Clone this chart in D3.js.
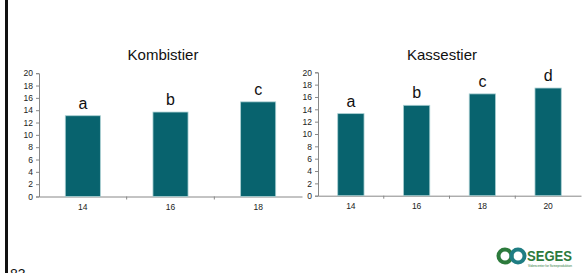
<!DOCTYPE html>
<html><head><meta charset="utf-8">
<script src="https://cdn.jsdelivr.net/npm/d3@7"></script>
<style>body{margin:0;background:#fff}svg{display:block;font-family:"Liberation Sans",Arial,sans-serif}</style>
</head><body><svg id="c" width="583" height="273"></svg>
<script>
const leftTitle = "Kombistier";
const leftCats = ["14","16","18"];
const leftVals = [13.1, 13.7, 15.35];
const leftLetters = ["a","b","c"];
const rightTitle = "Kassestier";
const rightCats = ["14","16","18","20"];
const rightVals = [13.3, 14.65, 16.5, 17.45];
const rightLetters = ["a","b","c","d"];
const yTicks = [0,2,4,6,8,10,12,14,16,18,20];

const svg = d3.select("#c");
const barColor = "#08636e";

function panel(title, cats, vals, letters, x0, x1, y0, y1, barFrac, titleX) {
  const x = d3.scaleBand().domain(cats).range([x0, x1]).paddingInner(0).paddingOuter(0);
  const y = d3.scaleLinear().domain([0, 20]).range([y0, y1]);
  const g = svg.append("g");
  const ya = g.append("g").attr("transform", `translate(${x0},0)`)
    .call(d3.axisLeft(y).tickValues(yTicks).tickSize(3).tickPadding(3).tickFormat(d3.format("d")));
  ya.select(".domain").attr("stroke", "#888");
  ya.selectAll(".tick line").attr("stroke", "#888");
  ya.selectAll("text").attr("font-size", 8.5).attr("fill", "#222").attr("font-family", "Liberation Sans, Arial");
  const xa = g.append("g").attr("transform", `translate(0,${y0})`)
    .call(d3.axisBottom(x).tickSize(0).tickPadding(7));
  xa.select(".domain").attr("stroke", "#888");
  xa.selectAll("text").attr("font-size", 8.5).attr("fill", "#222").attr("font-family", "Liberation Sans, Arial");
  g.selectAll(".bt").data(cats.slice(1)).enter().append("line")
    .attr("x1", d => x(d)).attr("x2", d => x(d))
    .attr("y1", y0).attr("y2", y0 + 3).attr("stroke", "#888");
  const bw = x.bandwidth() * barFrac;
  g.selectAll(".bar").data(vals).enter().append("rect")
    .attr("x", (d, i) => x(cats[i]) + (x.bandwidth() - bw) / 2)
    .attr("y", d => y(d))
    .attr("width", bw)
    .attr("height", d => y0 - y(d))
    .attr("fill", barColor)
    .attr("stroke", "#a9cfd2").attr("stroke-width", 0.8);
  g.selectAll(".lt").data(vals).enter().append("text")
    .attr("x", (d, i) => x(cats[i]) + x.bandwidth() / 2)
    .attr("y", d => y(d) - 7)
    .attr("text-anchor", "middle")
    .attr("font-size", 16).attr("fill", "#111")
    .text((d, i) => letters[i]);
  g.append("text").attr("x", titleX).attr("y", 60)
    .attr("text-anchor", "middle").attr("font-size", 15).attr("fill", "#111")
    .text(title);
}

panel(leftTitle, leftCats, leftVals, leftLetters, 39, 302, 196.5, 73.2, 0.4, 163);
panel(rightTitle, rightCats, rightVals, rightLetters, 318, 581, 195.7, 72.3, 0.4, 442);

svg.append("rect").attr("x", 5).attr("y", 0).attr("width", 3).attr("height", 273).attr("fill", "#111");
svg.append("text").attr("x", 10).attr("y", 279).attr("font-size", 14).attr("fill", "#111").text("83");

const logo = svg.append("g");
logo.append("circle").attr("cx", 505).attr("cy", 256).attr("r", 6.5).attr("fill", "none").attr("stroke", "#2c7a3c").attr("stroke-width", 4);
logo.append("circle").attr("cx", 518).attr("cy", 256).attr("r", 6.5).attr("fill", "none").attr("stroke", "#1f7d83").attr("stroke-width", 4);
logo.append("text").attr("x", 527).attr("y", 261).attr("font-size", 14).attr("font-weight", "bold")
  .attr("font-family", "Liberation Sans Narrow, Liberation Sans, Arial").attr("fill", "#2c7a3c")
  .attr("textLength", 45).attr("lengthAdjust", "spacingAndGlyphs").text("SEGES");
logo.append("text").attr("x", 528).attr("y", 267).attr("font-size", 3.5).attr("fill", "#2c7a3c")
  .attr("textLength", 44).attr("lengthAdjust", "spacingAndGlyphs").text("Videncenter for Svineproduktion");
</script></body></html>
